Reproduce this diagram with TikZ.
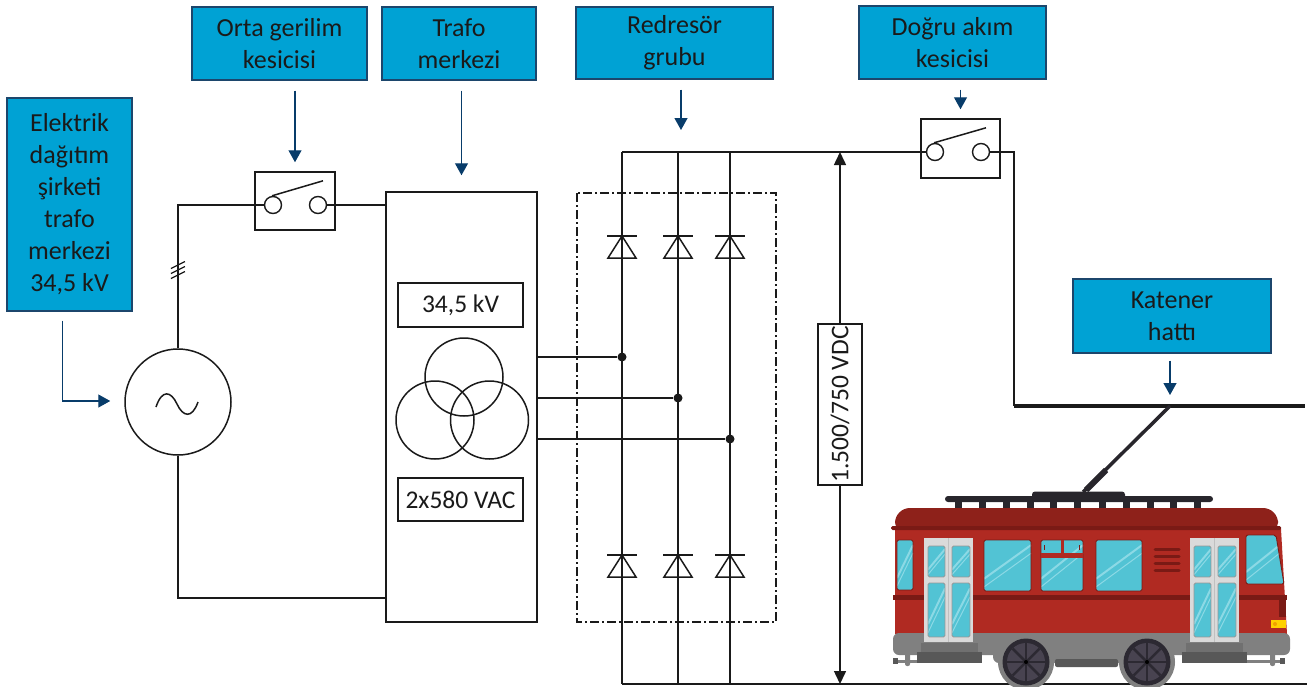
\documentclass[tikz,border=0pt]{standalone}
\usepackage{fontspec}
\setmainfont{Carlito}
\usetikzlibrary{arrows.meta,calc}

\definecolor{tagfill}{RGB}{0,162,212}
\definecolor{tagedge}{RGB}{28,70,108}
\definecolor{ptrblue}{RGB}{8,60,106}
\definecolor{ink}{RGB}{26,26,26}
\definecolor{roofred}{RGB}{142,33,26}
\definecolor{bodyred}{RGB}{176,42,34}
\definecolor{beltred}{RGB}{122,26,21}
\definecolor{glass}{RGB}{82,195,212}
\definecolor{glare}{RGB}{140,217,229}
\definecolor{doorgray}{RGB}{218,218,218}
\definecolor{paneframe}{RGB}{150,150,150}
\definecolor{skirt}{RGB}{128,128,128}
\definecolor{steptop}{RGB}{112,112,112}
\definecolor{stepgray}{RGB}{88,88,88}
\definecolor{wheeldark}{RGB}{44,41,50}
\definecolor{wheelhub}{RGB}{72,67,80}
\definecolor{railtop}{RGB}{40,38,44}
\definecolor{lamp}{RGB}{255,208,0}
\definecolor{lampdot}{RGB}{240,160,0}

% glass pane with two glare streaks: x1, y1, x2, y2, frame colour
\newcommand{\tramglass}[5]{%
  \begin{scope}
    \clip[rounded corners=1.5pt] (#1,#2) rectangle (#3,#4);
    \fill[glass] (#1,#2) rectangle (#3,#4);
    \draw[glare,line width=2pt] ({#1},{#4-0.24*(#4-#2)}) -- ({#3},{#2+0.10*(#4-#2)});
    \draw[glare,line width=1pt] ({#1},{#4-0.08*(#4-#2)}) -- ({#3},{#2+0.26*(#4-#2)});
  \end{scope}
  \draw[#5,line width=0.9pt,rounded corners=1.5pt] (#1,#2) rectangle (#3,#4);
}

\begin{document}
\begin{tikzpicture}[x=1pt,y=-1pt,
  tag/.style={draw=tagedge,fill=tagfill,line width=1.2pt,inner sep=0pt,align=center,
    text=ink,font=\fontsize{26}{32}\selectfont},
  pointer/.style={draw=ptrblue,line width=1.3pt,-{Triangle[length=12pt,width=13pt]}},
  wire/.style={draw=ink,line width=1.5pt},
  unit/.style={draw=ink,line width=1.5pt,fill=white,inner sep=0pt},
  contact/.style={circle,draw=ink,line width=1.4pt,fill=white,minimum size=17pt,inner sep=0pt},
  valuebox/.style={draw=ink,line width=1.4pt,fill=white,inner sep=0pt,text=ink,
    font=\fontsize{25.5}{30}\selectfont},
  junction/.style={circle,fill=ink,minimum size=9pt,inner sep=0pt},
  winding/.style={circle,draw=ink,line width=1.5pt,minimum size=78pt,inner sep=0pt},
  dcarrow/.style={wire,-{Triangle[length=13pt,width=12pt]}},
]
\useasboundingbox (0,0) rectangle (1311,686);

% ---------------- caption tags ----------------
\node[tag,minimum width=125pt,minimum height=213pt] (tsrc) at (69.5,204.5)
  {Elektrik\\dağıtım\\şirketi\\trafo\\merkezi\\34,5 kV};
\node[tag,minimum width=175pt,minimum height=73pt] (tbrk) at (279.5,43.5) {Orta gerilim\\kesicisi};
\node[tag,minimum width=154pt,minimum height=73pt] (ttrf) at (459,43.5) {Trafo\\merkezi};
\node[tag,minimum width=197pt,minimum height=72pt] (trec) at (674.5,43) {Redresör\\grubu};
\node[tag,minimum width=187pt,minimum height=73pt] (tdcb) at (952.5,42.5) {Doğru akım\\kesicisi};
\node[tag,minimum width=198pt,minimum height=74pt] (tcat) at (1172,316) {Katener\\hattı};

% ---------------- supply and medium-voltage breaker ----------------
\node[circle,draw=ink,line width=1.5pt,minimum size=106pt,inner sep=0pt] (gen) at (178,402) {};
\draw[wire] (156,407) .. controls (162,389) and (171,391) .. (177,404)
                      .. controls (183,417) and (192,419) .. (198,402);

\node[unit,minimum width=80pt,minimum height=58pt] (sw1) at (295,201) {};
\node[contact] (sw1a) at (273,205) {};
\node[contact] (sw1b) at (318,205) {};
\draw[wire] (sw1a.north) ++(-1,0) -- ++(51,-15);

% ---------------- transformer ----------------
\node[unit,minimum width=151pt,minimum height=430pt] (trf) at (461.5,407) {};
\node[valuebox,minimum width=125pt,minimum height=44pt] (kv) at (460.5,305) {34,5 kV};
\node[valuebox,minimum width=125pt,minimum height=43pt] (vac) at (460.5,499.5) {2x580 VAC};
\node[winding] (w1) at (464,377) {};
\node[winding] (w2) at (435,420) {};
\node[winding] (w3) at (489.5,420) {};

\coordinate (trflow) at (386,598);
\draw[wire] (gen.north) |- (sw1a.west);
\draw[wire] (sw1b.east) -- (sw1b.east -| trf.west);
\draw[wire] (gen.south) |- (trflow);
\foreach \h in {265,270,275}
  \draw[ink,line width=1.2pt] (171,\h+3.5) -- (185,\h-3.5);

% ---------------- rectifier bridge ----------------
\foreach \c/\x in {A/622,B/678,C/730}{
  \coordinate (top\c) at (\x,152);
  \coordinate (bot\c) at (\x,684);
  \draw[wire] (top\c) -- (bot\c);
}
\foreach \x in {622,678,730}
  \foreach \yb in {236,555}{
    \draw[wire,line join=miter] (\x,\yb) -- (\x-14,\yb+22) -- (\x+14,\yb+22) -- cycle;
    \draw[wire] (\x-15,\yb) -- (\x+15,\yb);
  }
\draw[ink,line width=1.2pt,dash pattern=on 9pt off 3pt on 2pt off 3pt] (577,193) rectangle (776,622);

\node[junction] (jA) at (622,357) {};
\node[junction] (jB) at (678,398) {};
\node[junction] (jC) at (730,439) {};
\draw[wire] (trf.east |- jA) -- (jA);
\draw[wire] (trf.east |- jB) -- (jB);
\draw[wire] (trf.east |- jC) -- (jC);

% ---------------- DC breaker, buses and catenary ----------------
\node[unit,minimum width=79pt,minimum height=59pt] (sw2) at (960.5,148.5) {};
\node[contact] (sw2a) at (935,152) {};
\node[contact] (sw2b) at (981,152) {};
\draw[wire] (sw2a.north) ++(-1,0) -- ++(52,-15);

\coordinate (feed) at (1014,406);
\coordinate (catend) at (1305,406);
\coordinate (pan) at (1170,406);
\coordinate (railend) at (1307,684);
\draw[wire] (topA) -- (sw2a.west);
\draw[wire] (sw2b.east) -| (feed);
\draw[ink,line width=3.5pt] (feed) -- (catend);
\draw[ink,line width=1.8pt] (botA) -- (railend);

\node[valuebox,rotate=90,minimum width=161pt,minimum height=44pt] (vdc) at (840,404.5) {1.500/750 VDC};
\draw[dcarrow] (vdc.east) -- (vdc.east |- topA);
\draw[dcarrow] (vdc.west) -- (vdc.west |- botA);

% ---------------- pointers from the tags ----------------
\coordinate (recin) at (681,130);
\draw[pointer] ($(tsrc.south)+(-7,9)$) |- ($(gen.west)+(-14,-1)$);
\draw[pointer] ($(tbrk.south -| sw1.north)+(0,10)$) -- ($(sw1.north)+(0,-9)$);
\draw[pointer] ($(ttrf.south -| trf.north)+(0,10)$) -- ($(trf.north)+(0,-16)$);
\draw[pointer] ($(trec.south -| recin)+(0,10)$) -- (recin);
\draw[pointer] ($(tdcb.south -| sw2.north)+(0,10)$) -- ($(sw2.north)+(0,-9)$);
\draw[pointer] ($(tcat.south -| pan)+(0,7)$) -- ($(pan)+(0,-11)$);

% ---------------- trolleybus ----------------
% trolley pole
\draw[railtop,line width=3.5pt] (pan) -- (1083,492);
\draw[railtop,line width=6pt] (1106,470) -- (1086,490);
% roof rack
\foreach \px in {958,982,1006,1030,1053,1077,1102,1126,1150,1173,1197}
  \fill[railtop] (\px-3.5,500) rectangle (\px+3.5,510);
\fill[railtop,rounded corners=3pt] (945,496) rectangle (1213,502);
\fill[railtop,rounded corners=3pt] (1032,491.5) rectangle (1125,499);
% roof and body
\fill[roofred,rounded corners=15pt] (895,536) -- (895,508) -- (1278,508) -- (1278,536) -- cycle;
\fill[bodyred] (895,529) -- (1281,529) -- (1287,634) -- (895,634) -- cycle;
\fill[beltred,rounded corners=1.5pt] (891,526) rectangle (1281,530);
% under-frame
\fill[skirt,rounded corners=6pt] (893,633) rectangle (1290,655);
\fill[skirt,rounded corners=6pt] (993,645) rectangle (1174,663);
\fill[stepgray,rounded corners=2pt] (1055,659) rectangle (1118,667);
\fill[steptop] (921,643) rectangle (978,652);
\fill[stepgray] (917,652) rectangle (982,663);
\fill[steptop] (1186,643) rectangle (1243,652);
\fill[stepgray] (1182,652) rectangle (1247,663);
\draw[skirt,line width=3pt] (894,661) -- (917,661);
\draw[skirt,line width=3pt] (1247,661) -- (1285,661);
\fill[skirt,rounded corners=2pt] (905,648) rectangle (910,666);
\fill[skirt,rounded corners=2pt] (1270,648) rectangle (1275,666);
\fill[stepgray] (893,658) rectangle (898,664);
\fill[stepgray] (1280,658) rectangle (1285,664);
% wheels
\foreach \wx in {1026,1147}{
  \fill[skirt] (\wx,662) circle (28);
  \fill[wheeldark] (\wx,662) circle (23.5);
  \fill[wheelhub] (\wx,662) circle (19);
  \foreach \a in {0,45,...,315}
    \draw[wheeldark,line width=2.5pt] (\wx,662) -- ++(\a:19);
  \fill[black] (\wx,662) circle (2);
}
% belt line
\fill[beltred] (893,595) rectangle (1287,599.5);
% doors
\foreach \dx in {924,1190}{
  \fill[doorgray] (\dx,538) rectangle (\dx+49,642);
  \draw[paneframe!60!white,line width=0.8pt] (\dx+24.5,538) -- (\dx+24.5,642);
  \tramglass{\dx+4}{546}{\dx+21}{577}{paneframe}
  \tramglass{\dx+28}{546}{\dx+46}{577}{paneframe}
  \tramglass{\dx+4}{583}{\dx+21}{637}{paneframe}
  \tramglass{\dx+28}{583}{\dx+46}{637}{paneframe}
}
% side windows
\tramglass{897}{540}{913}{590}{beltred}
\tramglass{984}{540}{1031}{591}{beltred}
\tramglass{1041}{540}{1083}{591}{beltred}
\fill[bodyred] (1041,553) rectangle (1083,557.5);
\fill[bodyred] (1060.5,540) rectangle (1063.5,553);
\draw[beltred,line width=1pt] (1044.5,545) -- (1044.5,550);
\draw[beltred,line width=1pt] (1079.5,545) -- (1079.5,550);
\tramglass{1096}{540}{1142}{591}{beltred}
% vents
\foreach \vy in {549,556,563,570}
  \draw[beltred,line width=3pt,line cap=round] (1155,\vy) -- (1179,\vy);
% front window
\begin{scope}
  \clip[rounded corners=2pt] (1246,535) -- (1276,535) -- (1284,584) -- (1246,584) -- cycle;
  \fill[glass] (1246,535) rectangle (1286,584);
  \draw[glare,line width=2pt] (1246,572) -- (1286,540);
  \draw[glare,line width=1pt] (1246,580) -- (1286,548);
\end{scope}
\draw[beltred,line width=0.9pt,rounded corners=2pt] (1246,535) -- (1276,535) -- (1284,584) -- (1246,584) -- cycle;
% nose details
\fill[beltred] (1279,599.5) rectangle (1286,617);
\fill[lamp] (1271,620) rectangle (1286,628);
\fill[lampdot] (1275,624) circle (2);
\end{tikzpicture}
\end{document}
